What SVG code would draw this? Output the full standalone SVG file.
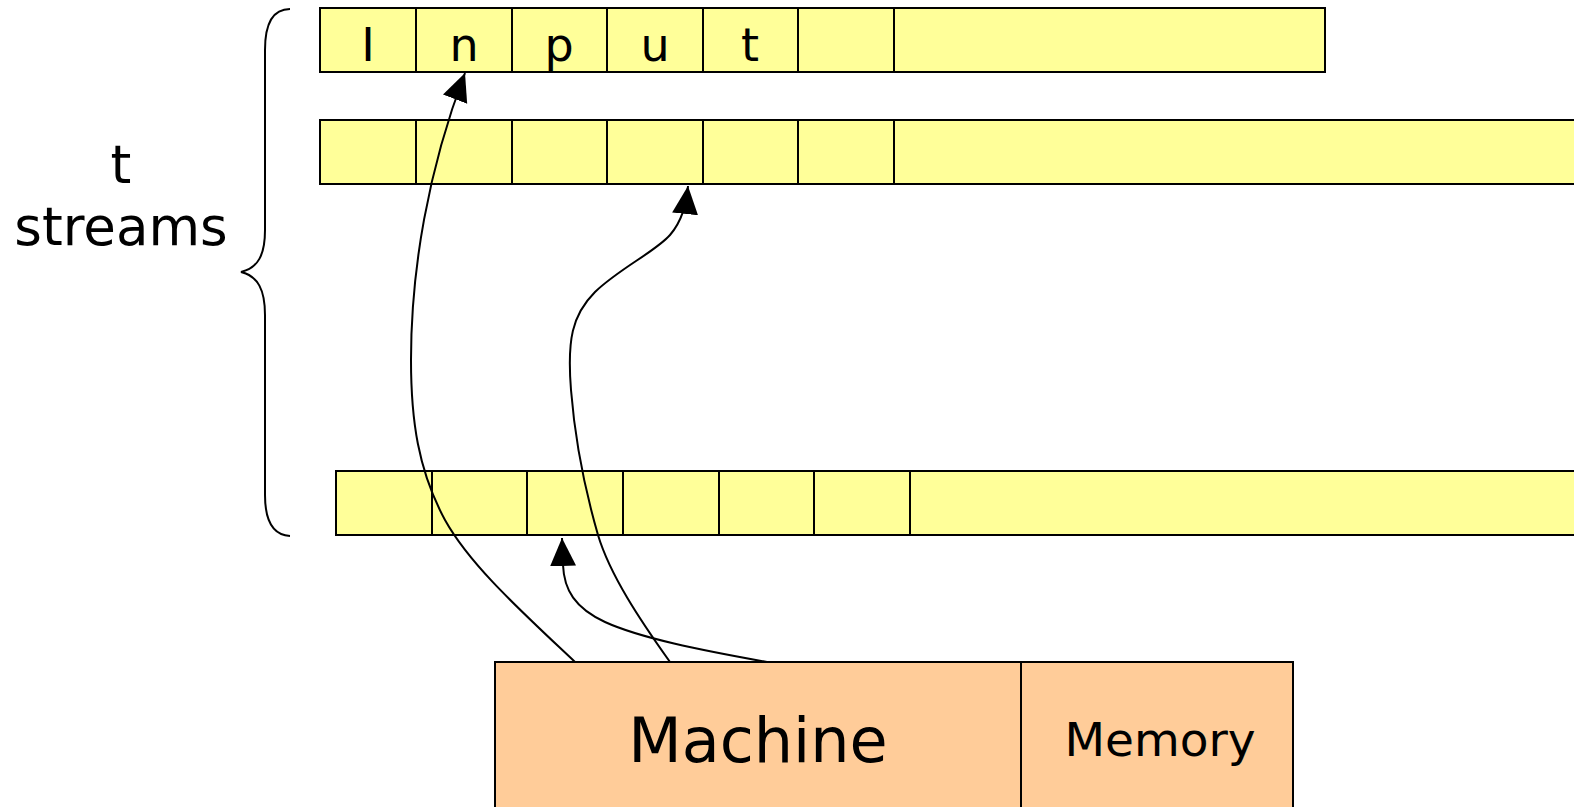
<svg xmlns="http://www.w3.org/2000/svg" width="1574" height="807" viewBox="0 0 1574 807">
  <style>
    .cell { fill: #FFFF99; stroke: #000; stroke-width: 2; }
    .box { fill: #FFCC99; stroke: #000; stroke-width: 2; }
    .wire { fill: none; stroke: #000; stroke-width: 2; }
    .txt { font-family: "DejaVu Sans", sans-serif; fill: #000; text-anchor: middle; }
  </style>
  <defs>
    <marker id="arrow" markerUnits="userSpaceOnUse" markerWidth="32" markerHeight="32" refX="28" refY="13" orient="auto">
      <path d="M0,0 L28,13 L0,26 z" fill="#000"/>
    </marker>
  </defs>

  <rect width="1574" height="807" fill="#fff"/>

  <!-- stream 1 (input tape) -->
  <g id="stream1">
    <rect class="cell" x="320" y="8" width="1005" height="64"/>
    <rect class="cell" x="320" y="8" width="96" height="64"/>
    <rect class="cell" x="416" y="8" width="96" height="64"/>
    <rect class="cell" x="512" y="8" width="95" height="64"/>
    <rect class="cell" x="607" y="8" width="96" height="64"/>
    <rect class="cell" x="703" y="8" width="95" height="64"/>
    <rect class="cell" x="798" y="8" width="96" height="64"/>
    <g class="txt" font-size="46">
      <text x="368" y="61">I</text>
      <text x="464" y="61">n</text>
      <text x="559" y="61">p</text>
      <text x="655" y="61">u</text>
      <text x="750" y="61">t</text>
    </g>
  </g>

  <!-- stream 2 -->
  <g id="stream2">
    <rect class="cell" x="320" y="120" width="1270" height="64"/>
    <rect class="cell" x="320" y="120" width="96" height="64"/>
    <rect class="cell" x="416" y="120" width="96" height="64"/>
    <rect class="cell" x="512" y="120" width="95" height="64"/>
    <rect class="cell" x="607" y="120" width="96" height="64"/>
    <rect class="cell" x="703" y="120" width="95" height="64"/>
    <rect class="cell" x="798" y="120" width="96" height="64"/>
  </g>

  <!-- stream t -->
  <g id="stream3">
    <rect class="cell" x="336" y="471" width="1260" height="64"/>
    <rect class="cell" x="336" y="471" width="96" height="64"/>
    <rect class="cell" x="432" y="471" width="95" height="64"/>
    <rect class="cell" x="527" y="471" width="96" height="64"/>
    <rect class="cell" x="623" y="471" width="96" height="64"/>
    <rect class="cell" x="719" y="471" width="95" height="64"/>
    <rect class="cell" x="814" y="471" width="96" height="64"/>
  </g>

  <!-- brace and label -->
  <g id="brace">
    <path class="wire" d="M290,9 C272,9 265,25 265,50 L265,230 C265,255 258,268 241,272 C258,276 265,290 265,315 L265,495 C265,520 272,535 290,536"/>
    <text class="txt" font-size="53" x="121" y="183">t</text>
    <text class="txt" font-size="53" x="121" y="245">streams</text>
  </g>

  <!-- machine with memory -->
  <g id="machine">
    <rect class="box" x="495" y="662" width="526" height="200"/>
    <text class="txt" font-size="62" x="758" y="762">Machine</text>
  </g>
  <g id="memory">
    <rect class="box" x="1021" y="662" width="272" height="200"/>
    <text class="txt" font-size="47" x="1160" y="756">Memory</text>
  </g>

  <!-- read heads -->
  <g id="connectors">
    <path class="wire" marker-end="url(#arrow)" d="M575,662 C520,610 470,565 445,520 C418,470 411,420 411,360 C411,270 428,170 465,73"/>
    <path class="wire" marker-end="url(#arrow)" d="M670,662 C640,620 610,575 598,535 C585,490 575,440 571,390 C567,340 572,315 595,292 C620,268 655,252 670,235 C682,221 686,205 688,186"/>
    <path class="wire" marker-end="url(#arrow)" d="M767,662 C700,650 640,638 605,622 C575,608 564,590 563,565 L562,538"/>
  </g>
</svg>
